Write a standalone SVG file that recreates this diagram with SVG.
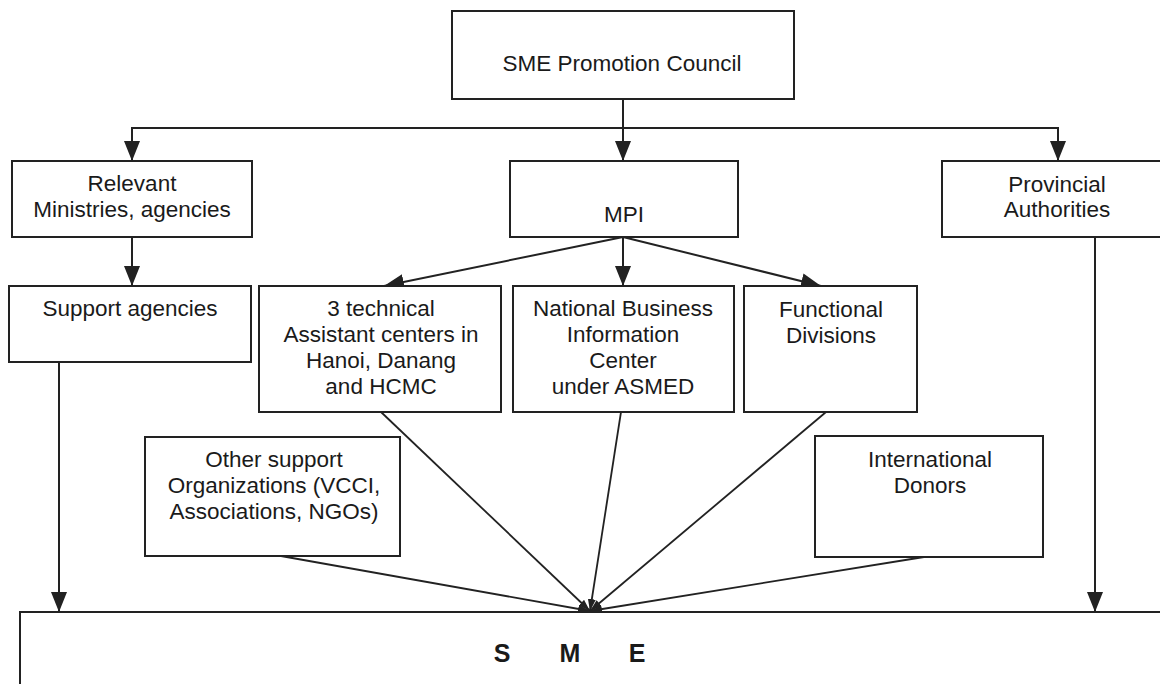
<svg xmlns="http://www.w3.org/2000/svg" width="1160" height="684" viewBox="0 0 1160 684">
<style>
.box{fill:#fff;stroke:#222;stroke-width:2}
.t{font-family:"Liberation Sans",Arial,sans-serif;font-size:22.5px;fill:#1a1a1a;text-anchor:middle}
.b{font-family:"Liberation Sans",Arial,sans-serif;font-size:25px;font-weight:bold;fill:#1a1a1a;text-anchor:middle}
.c{fill:none;stroke:#222;stroke-width:2}
.d{fill:none;stroke:#222;stroke-width:1.8}
</style>
<defs>
<marker id="ah" viewBox="0 0 20 16" refX="20" refY="8" markerWidth="20" markerHeight="16" markerUnits="userSpaceOnUse" orient="auto">
<path d="M0,0 L20,8 L0,16 Z" fill="#222"/>
</marker>
<marker id="sm" viewBox="0 0 12 8" refX="12" refY="4" markerWidth="12" markerHeight="8" markerUnits="userSpaceOnUse" orient="auto">
<path d="M0,0 L12,4 L0,8 Z" fill="#222"/>
</marker>
</defs>
<rect width="1160" height="684" fill="#fff"/>
<g id="connectors">
<path class="c" d="M623,99 V161" marker-end="url(#ah)"/>
<path class="c" d="M132,161 V128 H1058 V161" marker-end="url(#ah)"/>
<path class="c" d="M132,128 V161" marker-end="url(#ah)"/>
<path class="c" d="M132,237 V286" marker-end="url(#ah)"/>
<path class="c" d="M623,237 L384,286" marker-end="url(#ah)"/>
<path class="c" d="M623,237 V286" marker-end="url(#ah)"/>
<path class="c" d="M623,237 L821,286" marker-end="url(#ah)"/>
<path class="c" d="M59,362 V612" marker-end="url(#ah)"/>
<path class="c" d="M1095,237 V612" marker-end="url(#ah)"/>
<path class="d" d="M381,412 L590,611" marker-end="url(#sm)"/>
<path class="d" d="M281,556 L590,611" marker-end="url(#sm)"/>
<path class="d" d="M621,412 L590,611" marker-end="url(#sm)"/>
<path class="d" d="M826,412 L590,611" marker-end="url(#sm)"/>
<path class="d" d="M924,557 L590,611" marker-end="url(#sm)"/>
</g>
<g id="sme-council">
<rect class="box" x="452" y="11" width="342" height="88"/>
<text class="t" x="622" y="71">SME Promotion Council</text>
</g>
<g id="relevant">
<rect class="box" x="12" y="161" width="240" height="76"/>
<text class="t" x="132" y="191">Relevant</text>
<text class="t" x="132" y="217">Ministries, agencies</text>
</g>
<g id="mpi">
<rect class="box" x="510" y="161" width="228" height="76"/>
<text class="t" x="624" y="222">MPI</text>
</g>
<g id="provincial">
<rect class="box" x="942" y="161" width="240" height="76"/>
<text class="t" x="1057" y="192">Provincial</text>
<text class="t" x="1057" y="217">Authorities</text>
</g>
<g id="support">
<rect class="box" x="9" y="286" width="242" height="76"/>
<text class="t" x="130" y="316">Support agencies</text>
</g>
<g id="technical">
<rect class="box" x="259" y="286" width="242" height="126"/>
<text class="t" x="381" y="316">3 technical</text>
<text class="t" x="381" y="342">Assistant centers in</text>
<text class="t" x="381" y="368">Hanoi, Danang</text>
<text class="t" x="381" y="394">and HCMC</text>
</g>
<g id="national">
<rect class="box" x="513" y="286" width="221" height="126"/>
<text class="t" x="623" y="316">National Business</text>
<text class="t" x="623" y="342">Information</text>
<text class="t" x="623" y="368">Center</text>
<text class="t" x="623" y="394">under ASMED</text>
</g>
<g id="functional">
<rect class="box" x="744" y="286" width="173" height="126"/>
<text class="t" x="831" y="317">Functional</text>
<text class="t" x="831" y="343">Divisions</text>
</g>
<g id="other">
<rect class="box" x="145" y="437" width="255" height="119"/>
<text class="t" x="274" y="467">Other support</text>
<text class="t" x="274" y="493">Organizations (VCCI,</text>
<text class="t" x="274" y="519">Associations, NGOs)</text>
</g>
<g id="donors">
<rect class="box" x="815" y="436" width="228" height="121"/>
<text class="t" x="930" y="467">International</text>
<text class="t" x="930" y="493">Donors</text>
</g>
<g id="sme">
<rect class="box" x="20" y="612" width="1160" height="90"/>
<text class="b" y="662"><tspan x="502">S</tspan><tspan x="570">M</tspan><tspan x="637">E</tspan></text>
</g>
</svg>
